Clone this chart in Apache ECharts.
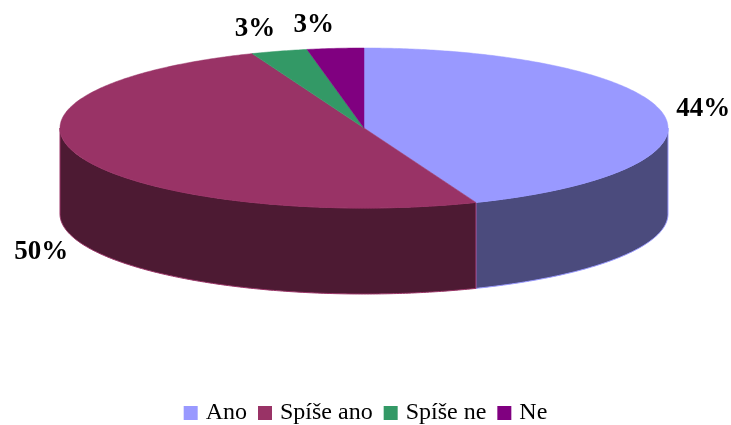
<!DOCTYPE html>
<html><head><meta charset="utf-8">
<script src="https://cdn.jsdelivr.net/npm/echarts@6/dist/echarts.min.js"></script>
<style>html,body{margin:0;padding:0;background:#fff}#c{width:731px;height:425px}</style>
</head><body><div id="c"></div>
<script>
const categories = ['Ano', 'Spíše ano', 'Spíše ne', 'Ne'];
const values = [44, 50, 3, 3];

const topColors = ['#9999FF', '#993366', '#339966', '#800080'];
const sideColors = ['#4B4B7D', '#4D1A33', '#1A4D33', '#400040'];

const total = values.reduce((a, b) => a + b, 0);
const CX = 364, CY = 128, RX = 304, RY = 80, DEPTH = 86;

function pt(t, off) {
  return [CX + RX * Math.sin(t), CY - RY * Math.cos(t) + (off || 0)];
}
function arc(a, b, off) {
  const pts = [];
  const n = Math.max(2, Math.ceil((b - a) / 0.01));
  for (let k = 0; k <= n; k++) pts.push(pt(a + (b - a) * k / n, off));
  return pts;
}

function renderItem(params, api) {
  const i = params.seriesIndex;
  let before = 0;
  for (let k = 0; k < i; k++) before += values[k];
  const v = api.value(0);
  const a0 = 2 * Math.PI * before / total;
  const a1 = 2 * Math.PI * (before + v) / total;
  const children = [];
  const s0 = Math.max(a0, Math.PI / 2), s1 = Math.min(a1, 3 * Math.PI / 2);
  if (s1 > s0) {
    const topArc = arc(s0, s1, 0);
    const botArc = arc(s0, s1, DEPTH).reverse();
    children.push({
      type: 'polygon', z2: 1,
      shape: { points: topArc.concat(botArc) },
      style: { fill: sideColors[i], stroke: topColors[i], lineWidth: 1 }
    });
  }
  children.push({
    type: 'polygon', z2: 10,
    shape: { points: [[CX, CY]].concat(arc(a0, a1, 0)) },
    style: { fill: topColors[i], stroke: topColors[i], lineWidth: 0.5 }
  });
  const m = (a0 + a1) / 2;
  const s = Math.sin(m), c = Math.cos(m);
  const anc = pt(m, c < 0 ? DEPTH : 0);
  children.push({
    type: 'text', z2: 20,
    x: anc[0] + s * 14, y: anc[1] - c * 23,
    style: {
      text: Math.round(v / total * 100) + '%',
      fill: '#000', font: 'bold 27px "Liberation Serif"',
      align: s > 0 ? 'left' : 'right', verticalAlign: 'middle'
    }
  });
  return { type: 'group', children };
}

const chart = echarts.init(document.getElementById('c'));
chart.setOption({
  animation: false,
  legend: {
    data: categories,
    top: 396, left: 'center',
    icon: 'rect', itemWidth: 14, itemHeight: 14, itemGap: 11,
    textStyle: { fontFamily: '"Liberation Serif", "Times New Roman", serif', fontSize: 24, color: '#000', padding: [0, 0, 0, 3] }
  },
  series: categories.map((name, i) => ({
    type: 'custom', name, coordinateSystem: 'none',
    color: topColors[i],
    renderItem, data: [[values[i]]]
  }))
});
</script></body></html>
